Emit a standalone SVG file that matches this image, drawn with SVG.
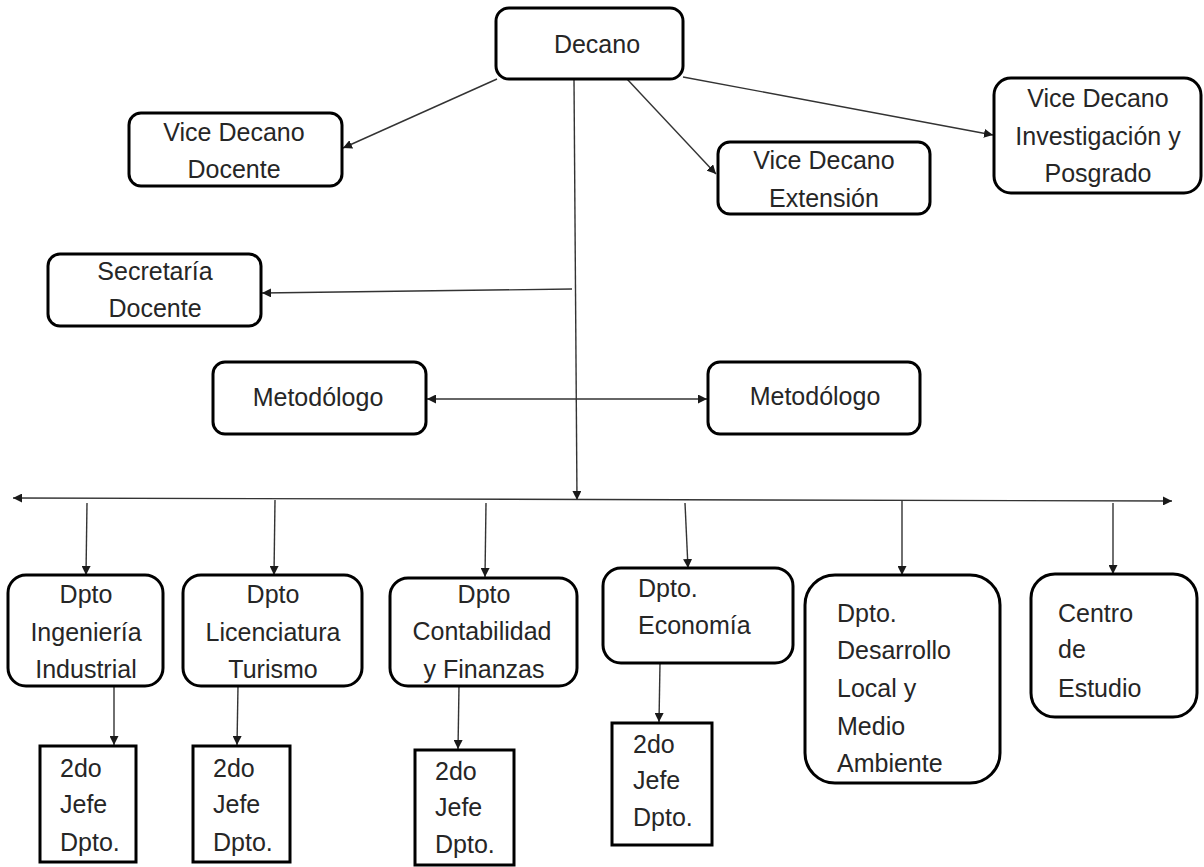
<svg xmlns="http://www.w3.org/2000/svg" width="1204" height="867" viewBox="0 0 1204 867">
  <defs>
    <marker id="arrow" viewBox="0 0 10 10" refX="10" refY="5" markerWidth="9" markerHeight="9" markerUnits="userSpaceOnUse" orient="auto-start-reverse">
      <path d="M0,0 L10,5 L0,10 z" fill="#1a1a1a"/>
    </marker>
  </defs>
  <style>
    .box { fill: #ffffff; stroke: #000000; stroke-width: 3; }
    .lbl { font-family: "Liberation Sans", Arial, sans-serif; font-size: 25px; fill: #262626; }
    .c { text-anchor: middle; }
    .conn { stroke: #333333; stroke-width: 1.4; fill: none; }
  </style>
  <rect width="1204" height="867" fill="#ffffff"/>

  <!-- connectors -->
  <g id="connectors">
    <line class="conn" x1="497" y1="79" x2="343" y2="148" marker-end="url(#arrow)"/>
    <line class="conn" x1="627" y1="79" x2="716" y2="174" marker-end="url(#arrow)"/>
    <line class="conn" x1="683" y1="77" x2="993" y2="135" marker-end="url(#arrow)"/>
    <line class="conn" x1="574" y1="80" x2="577" y2="500" marker-end="url(#arrow)"/>
    <line class="conn" x1="572" y1="289" x2="262" y2="293" marker-end="url(#arrow)"/>
    <line class="conn" x1="427" y1="399" x2="707" y2="399" marker-start="url(#arrow)" marker-end="url(#arrow)"/>
    <line class="conn" x1="13" y1="498" x2="1172" y2="501" marker-start="url(#arrow)" marker-end="url(#arrow)"/>
    <line class="conn" x1="87" y1="503" x2="86" y2="575" marker-end="url(#arrow)"/>
    <line class="conn" x1="275" y1="500" x2="274" y2="575" marker-end="url(#arrow)"/>
    <line class="conn" x1="486" y1="503" x2="485" y2="577" marker-end="url(#arrow)"/>
    <line class="conn" x1="685" y1="503" x2="688" y2="568" marker-end="url(#arrow)"/>
    <line class="conn" x1="902" y1="500" x2="902" y2="575" marker-end="url(#arrow)"/>
    <line class="conn" x1="1113" y1="503" x2="1113" y2="574" marker-end="url(#arrow)"/>
    <line class="conn" x1="114" y1="686" x2="114" y2="745" marker-end="url(#arrow)"/>
    <line class="conn" x1="238" y1="686" x2="237" y2="745" marker-end="url(#arrow)"/>
    <line class="conn" x1="459" y1="686" x2="458" y2="749" marker-end="url(#arrow)"/>
    <line class="conn" x1="660" y1="663" x2="659" y2="722" marker-end="url(#arrow)"/>
  </g>

  <!-- top management -->
  <g id="decano">
    <rect class="box" x="496" y="8" width="187" height="71" rx="13"/>
    <text class="lbl c" x="597" y="53">Decano</text>
  </g>
  <g id="vd-docente">
    <rect class="box" x="129" y="113" width="213" height="73" rx="12"/>
    <text class="lbl c" x="234" y="141">Vice Decano</text>
    <text class="lbl c" x="234" y="178">Docente</text>
  </g>
  <g id="vd-extension">
    <rect class="box" x="718" y="142" width="212" height="72" rx="12"/>
    <text class="lbl c" x="824" y="169">Vice Decano</text>
    <text class="lbl c" x="824" y="207">Extensión</text>
  </g>
  <g id="vd-investigacion">
    <rect class="box" x="994" y="78" width="207" height="115" rx="17"/>
    <text class="lbl c" x="1098" y="107">Vice Decano</text>
    <text class="lbl c" x="1098" y="145">Investigación y</text>
    <text class="lbl c" x="1098" y="182">Posgrado</text>
  </g>
  <g id="secretaria">
    <rect class="box" x="48" y="254" width="213" height="72" rx="12"/>
    <text class="lbl c" x="155" y="280">Secretaría</text>
    <text class="lbl c" x="155" y="317">Docente</text>
  </g>
  <g id="metodologo-izq">
    <rect class="box" x="213" y="362" width="213" height="72" rx="12"/>
    <text class="lbl c" x="318" y="406">Metodólogo</text>
  </g>
  <g id="metodologo-der">
    <rect class="box" x="708" y="362" width="212" height="72" rx="12"/>
    <text class="lbl c" x="815" y="405">Metodólogo</text>
  </g>

  <!-- departments -->
  <g id="dpto-ingenieria">
    <rect class="box" x="8" y="575" width="155" height="111" rx="18"/>
    <text class="lbl c" x="86" y="603">Dpto</text>
    <text class="lbl c" x="86" y="641">Ingeniería</text>
    <text class="lbl c" x="86" y="678">Industrial</text>
  </g>
  <g id="dpto-turismo">
    <rect class="box" x="183" y="575" width="179" height="111" rx="18"/>
    <text class="lbl c" x="273" y="603">Dpto</text>
    <text class="lbl c" x="273" y="641">Licenciatura</text>
    <text class="lbl c" x="273" y="678">Turismo</text>
  </g>
  <g id="dpto-contabilidad">
    <rect class="box" x="390" y="578" width="187" height="108" rx="18"/>
    <text class="lbl c" x="484" y="603">Dpto</text>
    <text class="lbl c" x="482" y="640">Contabilidad</text>
    <text class="lbl c" x="484" y="678">y Finanzas</text>
  </g>
  <g id="dpto-economia">
    <rect class="box" x="603" y="568" width="190" height="95" rx="18"/>
    <text class="lbl" x="638" y="597">Dpto.</text>
    <text class="lbl" x="638" y="634">Economía</text>
  </g>
  <g id="dpto-desarrollo">
    <rect class="box" x="805" y="575" width="195" height="208" rx="30"/>
    <text class="lbl" x="837" y="622">Dpto.</text>
    <text class="lbl" x="837" y="659">Desarrollo</text>
    <text class="lbl" x="837" y="697">Local y</text>
    <text class="lbl" x="837" y="735">Medio</text>
    <text class="lbl" x="837" y="772">Ambiente</text>
  </g>
  <g id="centro-estudio">
    <rect class="box" x="1031" y="574" width="166" height="143" rx="24"/>
    <text class="lbl" x="1058" y="622">Centro</text>
    <text class="lbl" x="1058" y="658">de</text>
    <text class="lbl" x="1058" y="697">Estudio</text>
  </g>

  <!-- second heads -->
  <g id="jefe-ingenieria">
    <rect class="box" x="40" y="746" width="96" height="116"/>
    <text class="lbl" x="60" y="777">2do</text>
    <text class="lbl" x="60" y="813">Jefe</text>
    <text class="lbl" x="60" y="851">Dpto.</text>
  </g>
  <g id="jefe-turismo">
    <rect class="box" x="193" y="746" width="97" height="116"/>
    <text class="lbl" x="213" y="777">2do</text>
    <text class="lbl" x="213" y="813">Jefe</text>
    <text class="lbl" x="213" y="851">Dpto.</text>
  </g>
  <g id="jefe-contabilidad">
    <rect class="box" x="415" y="750" width="99" height="115"/>
    <text class="lbl" x="435" y="780">2do</text>
    <text class="lbl" x="435" y="816">Jefe</text>
    <text class="lbl" x="435" y="853">Dpto.</text>
  </g>
  <g id="jefe-economia">
    <rect class="box" x="612" y="723" width="100" height="122"/>
    <text class="lbl" x="633" y="753">2do</text>
    <text class="lbl" x="633" y="789">Jefe</text>
    <text class="lbl" x="633" y="826">Dpto.</text>
  </g>
</svg>
